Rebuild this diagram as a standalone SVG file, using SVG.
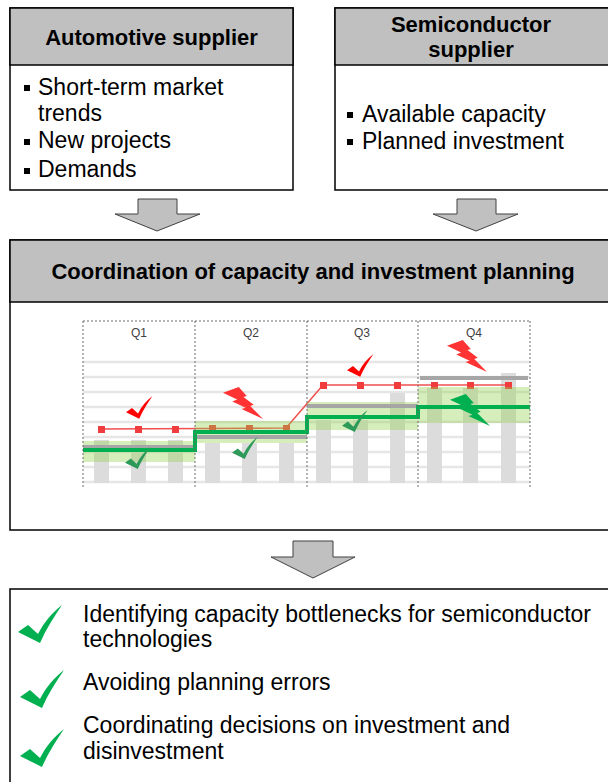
<svg xmlns="http://www.w3.org/2000/svg" xmlns:xlink="http://www.w3.org/1999/xlink" width="608" height="782" viewBox="0 0 608 782">
<style>
.box{fill:#ffffff;stroke:#000000;stroke-width:1.5}
.hdr{fill:#c0c0c0;stroke:#000000;stroke-width:1.5}
.ht{font-family:"Liberation Sans",Arial,sans-serif;font-size:22px;font-weight:bold;fill:#000000;text-anchor:middle}
.bt{font-family:"Liberation Sans",Arial,sans-serif;font-size:23px;fill:#000000}
.q{font-family:"Liberation Sans",Arial,sans-serif;font-size:12px;fill:#404040;text-anchor:middle}
.arrow{fill:#c0c0c0;stroke:#404040;stroke-width:1}
.grid{stroke:#e6e6e6;stroke-width:2.5}
.dot{stroke:#6a6a6a;stroke-width:1;stroke-dasharray:2 2;fill:none}
.bar{fill:#dcdcdc}
.band{fill:#92d050;fill-opacity:0.38}
.gline{stroke:#a6a6a6;stroke-width:4}
.rdot{fill:#f03c3c}
</style>
<defs>
<path id="check" d="M0,27 L10,20 L20,29 C26,17 34,8 44,0 C36,12 28,24 22,38 Z"/>
<path id="bolt" d="M15.7,0 L23.8,9 L20.5,10.1 L30.7,17.8 L27.3,19.1 L40,32 L18.5,22.1 L22.6,20.7 L9.3,14.4 L14.1,12.4 L0,5.8 Z"/>
<rect id="bul" width="6" height="6" fill="#000000"/>
</defs>

<g id="automotive-supplier">
<rect class="box" x="10" y="8" width="283" height="182"/>
<rect class="hdr" x="10" y="8" width="283" height="57"/>
<text class="ht" x="151.5" y="45">Automotive supplier</text>
<use xlink:href="#bul" x="24" y="85"/>
<text class="bt" x="38" y="95">Short-term market</text>
<text class="bt" x="38" y="121">trends</text>
<use xlink:href="#bul" x="24" y="139"/>
<text class="bt" x="38" y="148">New projects</text>
<use xlink:href="#bul" x="24" y="168"/>
<text class="bt" x="38" y="177">Demands</text>
</g>

<g id="semiconductor-supplier">
<rect class="box" x="335" y="8" width="280" height="182"/>
<rect class="hdr" x="335" y="8" width="280" height="57"/>
<text class="ht" x="471" y="32">Semiconductor</text>
<text class="ht" x="471" y="57">supplier</text>
<use xlink:href="#bul" x="347" y="112"/>
<text class="bt" x="362" y="122">Available capacity</text>
<use xlink:href="#bul" x="347" y="139"/>
<text class="bt" x="362" y="149">Planned investment</text>
</g>

<g id="connectors">
<path class="arrow" d="M138,199 H177 V214 H200 L157,231 L115,214 H138 Z"/>
<path class="arrow" d="M457,199 H496 V214 H518 L476,231 L433,214 H457 Z"/>
<path class="arrow" d="M293,541 H333 V557 H355 L313,578 L271,557 H293 Z"/>
</g>

<g id="coordination">
<rect class="box" x="10" y="240" width="605" height="290"/>
<rect class="hdr" x="10" y="240" width="605" height="62"/>
<text class="ht" x="313" y="279">Coordination of capacity and investment planning</text>
<g id="chart">
<g>
<line class="grid" x1="83" y1="362" x2="530" y2="362"/>
<line class="grid" x1="83" y1="377" x2="530" y2="377"/>
<line class="grid" x1="83" y1="392" x2="530" y2="392"/>
<line class="grid" x1="83" y1="407" x2="530" y2="407"/>
<line class="grid" x1="83" y1="422" x2="530" y2="422"/>
<line class="grid" x1="83" y1="437" x2="530" y2="437"/>
<line class="grid" x1="83" y1="452" x2="530" y2="452"/>
<line class="grid" x1="83" y1="467" x2="530" y2="467"/>
<line class="grid" x1="83" y1="482" x2="530" y2="482"/>
</g>
<g>
<rect class="bar" x="94" y="440" width="15" height="43"/>
<rect class="bar" x="131" y="440" width="15" height="43"/>
<rect class="bar" x="168" y="440" width="15" height="43"/>
<rect class="bar" x="205" y="443" width="15" height="40"/>
<rect class="bar" x="242" y="443" width="15" height="40"/>
<rect class="bar" x="279" y="443" width="15" height="40"/>
<rect class="bar" x="316" y="420" width="15" height="63"/>
<rect class="bar" x="353" y="420" width="15" height="63"/>
<rect class="bar" x="390" y="393" width="15" height="90"/>
<rect class="bar" x="427" y="388" width="15" height="95"/>
<rect class="bar" x="463" y="388" width="15" height="95"/>
<rect class="bar" x="501" y="373" width="15" height="110"/>
</g>
<g>
<polyline points="101,429 286,428 323,385 508,385" fill="none" stroke="#f05050" stroke-width="1.5"/>
<rect class="rdot" x="98" y="426" width="7" height="7"/>
<rect class="rdot" x="135" y="426" width="7" height="7"/>
<rect class="rdot" x="172" y="426" width="7" height="7"/>
<rect class="rdot" x="209" y="425" width="7" height="7"/>
<rect class="rdot" x="246" y="425" width="7" height="7"/>
<rect class="rdot" x="283" y="425" width="7" height="7"/>
<rect class="rdot" x="320" y="382" width="7" height="7"/>
<rect class="rdot" x="357" y="382" width="7" height="7"/>
<rect class="rdot" x="394" y="382" width="7" height="7"/>
<rect class="rdot" x="431" y="382" width="7" height="7"/>
<rect class="rdot" x="467" y="382" width="7" height="7"/>
<rect class="rdot" x="505" y="382" width="7" height="7"/>
</g>
<g>
<rect class="band" x="83" y="441" width="112" height="21"/>
<rect class="band" x="195" y="421" width="112" height="22"/>
<rect class="band" x="307" y="402" width="111" height="28"/>
<rect class="band" x="418" y="387" width="112" height="36"/>
</g>
<g>
<line class="gline" x1="83" y1="447" x2="195" y2="447"/>
<line class="gline" x1="195" y1="437" x2="307" y2="437"/>
<line class="gline" x1="307" y1="406" x2="418" y2="406"/>
<line class="gline" x1="420" y1="378" x2="528" y2="378"/>
</g>
<path d="M83,450 H195 V432 H307 V417 H418 V407 H530" fill="none" stroke="#00b050" stroke-width="4"/>
<g>
<path class="dot" d="M83,321 H530"/>
<line class="dot" x1="83" y1="321" x2="83" y2="489"/>
<line class="dot" x1="195" y1="321" x2="195" y2="489"/>
<line class="dot" x1="307" y1="321" x2="307" y2="489"/>
<line class="dot" x1="418" y1="321" x2="418" y2="489"/>
<line class="dot" x1="530" y1="321" x2="530" y2="489"/>
</g>
<text class="q" x="139" y="337">Q1</text>
<text class="q" x="251" y="337">Q2</text>
<text class="q" x="362" y="337">Q3</text>
<text class="q" x="474" y="337">Q4</text>
<use xlink:href="#check" fill="#ff0000" transform="translate(126,396) scale(0.6)"/>
<use xlink:href="#check" fill="#ff0000" transform="translate(347,354) scale(0.6)"/>
<use xlink:href="#check" fill="#2e9a5a" transform="translate(125,447) scale(0.58)"/>
<use xlink:href="#check" fill="#2e9a5a" transform="translate(232,437) scale(0.58)"/>
<use xlink:href="#check" fill="#2e9a5a" transform="translate(342,410) scale(0.58)"/>
<use xlink:href="#bolt" fill="#ff3333" transform="translate(223,387)"/>
<use xlink:href="#bolt" fill="#ff3333" transform="translate(447,340)"/>
<use xlink:href="#bolt" fill="#00b050" transform="translate(450,394)"/>
</g>
</g>

<g id="benefits">
<rect class="box" x="10" y="589" width="605" height="200"/>
<use xlink:href="#check" fill="#00b050" transform="translate(18,605)"/>
<text class="bt" x="83" y="622" textLength="508" lengthAdjust="spacing">Identifying capacity bottlenecks for semiconductor</text>
<text class="bt" x="83" y="647">technologies</text>
<use xlink:href="#check" fill="#00b050" transform="translate(20,670)"/>
<text class="bt" x="83" y="690">Avoiding planning errors</text>
<use xlink:href="#check" fill="#00b050" transform="translate(20,729)"/>
<text class="bt" x="83" y="733">Coordinating decisions on investment and</text>
<text class="bt" x="83" y="759">disinvestment</text>
</g>
</svg>
